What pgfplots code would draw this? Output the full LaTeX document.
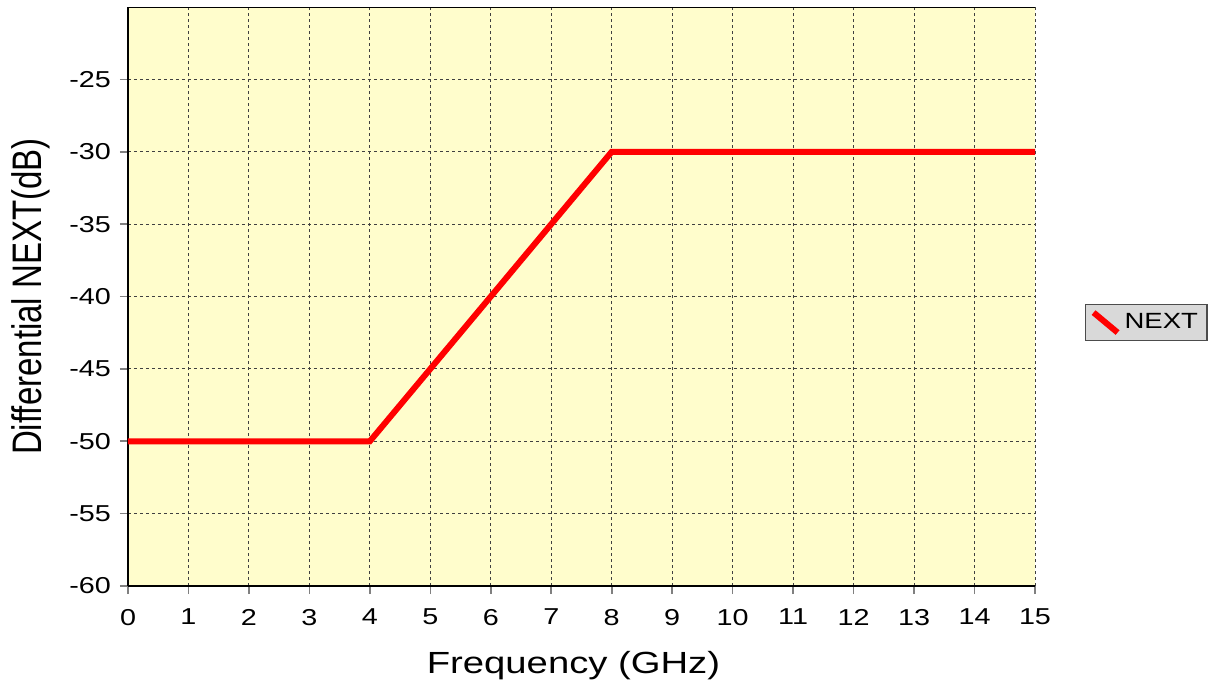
\documentclass[border=0pt]{standalone}
\usepackage{pgfplots}
\pgfplotsset{compat=1.18}
\usepackage{fontspec}
\setmainfont{Liberation Sans}[FakeStretch=1.25]
\newfontfamily\ylabfont{Liberation Sans}
\definecolor{bgyellow}{RGB}{255,253,204}
\definecolor{legfill}{RGB}{217,217,217}

\begin{document}
\begin{tikzpicture}
\begin{axis}[
    name=main,
    scale only axis,
    width=453.5pt, height=289.5pt,
    xmin=0, xmax=15, ymin=-60, ymax=-20,
    xtick={0,1,...,15},
    ytick={-60,-55,...,-25},
    axis x line*=bottom, axis y line*=left,
    axis line style={black, line width=0.8pt},
    axis background/.style={fill=bgyellow},
    grid=major,
    major grid style={black!75, line width=0.5pt, dash pattern=on 1.5pt off 1.5pt},
    tick style={gray, line width=0.8pt},
    tick align=outside,
    major tick length=4pt,
    xticklabel={\pgfmathprintnumber[assume math mode=true]{\tick}},
    yticklabel={\pgfmathprintnumber[assume math mode=true]{\tick}},
    tick label style={font=\fontsize{11.5}{13}\selectfont},
    xticklabel style={yshift=-4pt},
    yticklabel style={xshift=-1pt},
    xlabel={Frequency (GHz)},
    xlabel style={font=\fontsize{15.3}{18}\selectfont, yshift=-6pt, xshift=-4pt},
    ylabel={\ylabfont\scalebox{1}[1.25]{Differential NEXT(dB)}},
    ylabel style={font=\fontsize{16.5}{18}\selectfont, yshift=3pt},
    legend style={at={(rel axis cs:1,0.455)}, anchor=west, xshift=25pt,
        fill=legfill, draw=black!70, line width=0.6pt,
        font=\fontsize{11}{13}\selectfont, inner sep=2.5pt},
    legend cell align=left,
    legend image code/.code={\draw[#1, line width=3pt] (0pt,5pt) -- (12pt,-5pt);},
]
\addplot[red, line width=3pt] coordinates {
    (0,-50) (4,-50) (8,-30) (15,-30)
};
\addlegendentry{NEXT}
\draw[black, line width=0.8pt] (rel axis cs:0,1) -- (rel axis cs:1,1);
\end{axis}
\pgfresetboundingbox
\path ([shift={(-64pt,-48pt)}]main.south west) rectangle ([shift={(542pt,293pt)}]main.south west);
\end{tikzpicture}
\end{document}
